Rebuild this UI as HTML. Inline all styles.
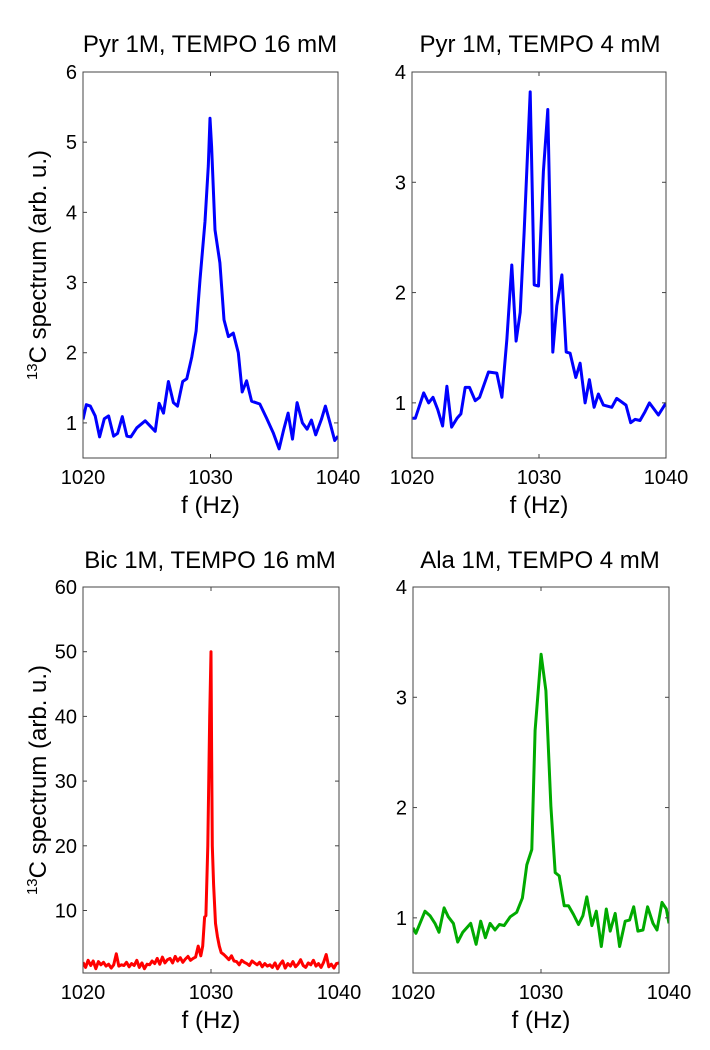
<!DOCTYPE html>
<html><head><meta charset="utf-8"><style>
html,body{margin:0;padding:0;background:#fff;}
svg{display:block;font-family:"Liberation Sans",Arial,sans-serif;}
</style></head><body>
<svg id="fig" width="710" height="1050" viewBox="0 0 710 1050"></svg>
<script>
// ---- data: panel A (Pyr 16 mM) ----
const aF=[1020.0,1020.26,1020.57,1020.96,1021.3,1021.67,1022.01,1022.4,1022.71,1023.08,1023.44,1023.75,1024.22,1024.88,1025.66,1025.97,1026.31,1026.7,1027.09,1027.41,1027.82,1028.14,1028.53,1028.87,1029.18,1029.57,1029.83,1029.96,1030.09,1030.35,1030.74,1031.06,1031.4,1031.79,1032.18,1032.49,1032.83,1033.22,1033.87,1034.39,1034.92,1035.38,1035.75,1036.09,1036.43,1036.79,1037.21,1037.58,1037.91,1038.25,1038.7,1039.01,1039.4,1039.74,1040.0];
const aV=[1.05,1.26,1.24,1.10,0.80,1.06,1.10,0.81,0.85,1.09,0.81,0.80,0.93,1.03,0.88,1.28,1.14,1.59,1.29,1.24,1.59,1.63,1.94,2.31,3.04,3.87,4.66,5.34,4.94,3.75,3.28,2.47,2.23,2.28,2.00,1.44,1.60,1.31,1.27,1.07,0.86,0.63,0.91,1.14,0.77,1.29,1.00,0.91,1.04,0.83,1.05,1.24,0.98,0.75,0.81];
// ---- panel B (Pyr 4 mM) ----
const bF=[1020.05,1020.26,1020.92,1021.31,1021.65,1022.02,1022.41,1022.75,1023.12,1023.54,1023.85,1024.19,1024.53,1024.98,1025.32,1026.02,1026.68,1027.08,1027.47,1027.86,1028.2,1028.52,1028.83,1029.31,1029.62,1029.96,1030.35,1030.69,1031.09,1031.4,1031.8,1032.14,1032.45,1032.9,1033.24,1033.63,1033.97,1034.34,1034.68,1035.07,1035.73,1036.12,1036.85,1037.22,1037.56,1037.95,1038.35,1038.69,1039.4,1040.0];
const bV=[0.86,0.86,1.09,1.00,1.05,0.94,0.79,1.15,0.78,0.86,0.90,1.14,1.14,1.02,1.05,1.28,1.27,1.05,1.58,2.25,1.56,1.82,2.54,3.82,2.07,2.06,3.10,3.66,1.46,1.88,2.16,1.46,1.45,1.23,1.36,1.00,1.21,0.96,1.08,0.98,0.96,1.04,0.98,0.82,0.85,0.84,0.92,1.00,0.89,1.00];
// ---- panel C (Bic 16 mM) ----
const cLeftV=[2.0,1.2,2.3,1.5,2.2,1.0,2.1,1.6,2.0,1.4,1.7,1.1,1.6,3.3,1.4,1.6,1.5,2.0,1.3,1.8,1.5,2.3,1.2,1.9,1.0,1.7,1.6,2.2,1.8,2.6,1.7,2.8,1.9,2.4,2.6,1.9,2.9,2.2,2.7,2.0,2.5,2.9,2.3,2.6,2.8,4.5,3.0];
const cPeakF=[1029.35,1029.5,1029.6,1029.75,1029.9,1030.0,1030.05,1030.1,1030.2,1030.35,1030.5,1030.65,1030.8,1031.0,1031.2];
const cPeakV=[4.5,9,9.2,20,40,50,35,20,14,8,6,4.5,3.5,3.2,2.8];
const cRightV=[2.4,3.0,2.2,2.1,1.6,2.3,2.0,1.8,1.5,2.2,1.9,1.6,2.0,1.3,1.8,1.4,1.6,1.2,1.9,1.0,1.7,2.2,1.1,1.8,1.4,2.1,1.3,1.7,2.4,1.5,1.2,1.9,1.6,2.3,1.4,1.8,1.2,2.0,3.2,1.3,1.7,1.1,1.8,1.9];
// ---- panel D (Ala 4 mM) ----
const dF=[1020,1020.23,1020.94,1021.33,1021.72,1022.03,1022.43,1022.76,1023.16,1023.49,1023.89,1024.51,1024.93,1025.29,1025.66,1026.02,1026.41,1026.75,1027.12,1027.59,1028.1,1028.55,1028.89,1029.28,1029.54,1030.01,1030.38,1030.77,1031.11,1031.42,1031.81,1032.15,1032.54,1032.93,1033.27,1033.58,1033.98,1034.32,1034.71,1035.1,1035.41,1035.8,1036.14,1036.58,1036.92,1037.24,1037.57,1037.97,1038.33,1038.75,1039.06,1039.45,1039.79,1040];
const dV=[0.91,0.86,1.06,1.02,0.95,0.87,1.09,1.01,0.95,0.78,0.87,0.95,0.76,0.97,0.82,0.95,0.89,0.94,0.93,1.01,1.05,1.18,1.48,1.62,2.70,3.39,3.06,2.01,1.41,1.38,1.11,1.11,1.03,0.94,1.02,1.19,0.93,1.06,0.74,1.08,0.88,1.04,0.74,0.97,0.98,1.10,0.88,0.89,1.10,0.95,0.89,1.14,1.08,0.95];
const xTicks=[1020,1030,1040];
const titles=["Pyr 1M, TEMPO 16 mM","Pyr 1M, TEMPO 4 mM","Bic 1M, TEMPO 16 mM","Ala 1M, TEMPO 4 mM"];

const cF=[], cV=[];
cLeftV.forEach((v,i)=>{cF.push(1020+0.2*i);cV.push(v);});
cPeakF.forEach((f,i)=>{cF.push(f);cV.push(cPeakV[i]);});
cRightV.forEach((v,i)=>{cF.push(1031.4+0.2*i);cV.push(v);});

const NS="http://www.w3.org/2000/svg";
const svg=document.getElementById('fig');
function mk(tag,attrs,parent){const e=document.createElementNS(NS,tag);for(const k in attrs)e.setAttribute(k,attrs[k]);(parent||svg).appendChild(e);return e;}

const panels=[
 {x0:83,x1:338,y0:72,y1:458,ymin:0.5,ymax:6,yt:[1,2,3,4,5,6],f:aF,v:aV,c:"#0000ff",title:titles[0],tx:210,ty:52,ylab:true,key:"pyr-16mm"},
 {x0:412,x1:666,y0:72,y1:458,ymin:0.5,ymax:4,yt:[1,2,3,4],f:bF,v:bV,c:"#0000ff",title:titles[1],tx:540,ty:52,ylab:false,key:"pyr-4mm"},
 {x0:83,x1:339,y0:587,y1:973,ymin:0.34,ymax:60,yt:[10,20,30,40,50,60],f:cF,v:cV,c:"#ff0000",title:titles[2],tx:210,ty:568,ylab:true,key:"bic-16mm"},
 {x0:413,x1:669,y0:587,y1:973,ymin:0.5,ymax:4,yt:[1,2,3,4],f:dF,v:dV,c:"#00aa00",title:titles[3],tx:540,ty:568,ylab:false,key:"ala-4mm"}
];

panels.forEach(p=>{
  const g=mk('g',{});
  
  
  const X=f=>p.x0+(f-1020)/20*(p.x1-p.x0);
  const Y=v=>p.y1-(v-p.ymin)/(p.ymax-p.ymin)*(p.y1-p.y0);
  // series
  const d=p.f.map((f,i)=>(i?'L':'M')+X(f).toFixed(1)+' '+Y(p.v[i]).toFixed(1)).join(' ');
  const cp=mk('clipPath',{id:'clip-'+p.key},g);
  mk('rect',{x:p.x0,y:p.y0,width:p.x1-p.x0,height:p.y1-p.y0},cp);
  const line=mk('path',{d:d,fill:'none',stroke:p.c,'stroke-width':3,'stroke-linejoin':'round','clip-path':'url(#clip-'+p.key+')'},g);
  
  
  // frame
  const fr=mk('rect',{x:p.x0,y:p.y0,width:p.x1-p.x0,height:p.y1-p.y0,fill:'none',stroke:'#444','stroke-width':1},g);
  
  
  // y ticks
  p.yt.forEach(t=>{
    const y=Y(t);
    mk('line',{x1:p.x0,x2:p.x0+4,y1:y,y2:y,stroke:'#444'},g);
    mk('line',{x1:p.x1,x2:p.x1-4,y1:y,y2:y,stroke:'#444'},g);
    const tl=mk('text',{x:p.x0-6,y:y+7,'text-anchor':'end','font-size':20,fill:'#000'},g);
    tl.textContent=t;
    
    
  });
  // x ticks
  xTicks.forEach(t=>{
    const x=X(t);
    mk('line',{x1:x,x2:x,y1:p.y1,y2:p.y1-4,stroke:'#444'},g);
    mk('line',{x1:x,x2:x,y1:p.y0,y2:p.y0+4,stroke:'#444'},g);
    const tl=mk('text',{x:x,y:p.y1+26,'text-anchor':'middle','font-size':20,fill:'#000'},g);
    tl.textContent=t;
    
    
  });
  const xl=mk('text',{x:(p.x0+p.x1)/2,y:p.y1+55,'text-anchor':'middle','font-size':24,fill:'#000'},g);
  xl.textContent='f (Hz)';
  
  
  const tt=mk('text',{x:p.tx,y:p.ty,'text-anchor':'middle','font-size':24,fill:'#000'},g);
  tt.textContent=p.title;
  
  
  if(p.ylab){
    const cy=(p.y0+p.y1)/2;
    const yl=mk('text',{x:0,y:0,'text-anchor':'middle','font-size':24,fill:'#000',transform:'translate(46,'+cy+') rotate(-90)'},g);
    
    
    const s1=mk('tspan',{'font-size':15,dy:-9},yl); s1.textContent='13';
    const s2=mk('tspan',{dy:9},yl); s2.textContent='C spectrum (arb. u.)';
  }
});
</script>
</body></html>
